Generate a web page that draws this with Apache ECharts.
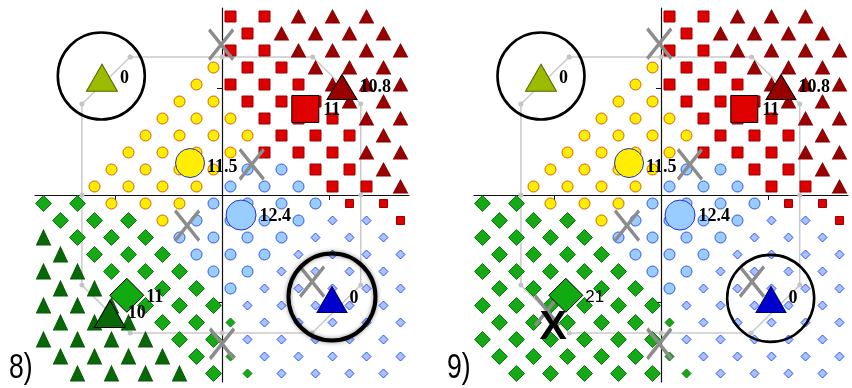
<!DOCTYPE html>
<html>
<head>
<meta charset="utf-8">
<script src="https://cdn.jsdelivr.net/npm/echarts@6/dist/echarts.min.js"></script>
<style>
  html, body { margin: 0; padding: 0; background: #fff; }
  #chart { width: 852px; height: 388px; }
</style>
</head>
<body>
<div id="chart"></div>
<script>
// Map cells on the staggered lattice: each row is [Y, [X, X, ...]]
const redSquares = [
  [10.5, [0.5, 2.5]], [9.5, [1.5]], [8.5, [0.5, 2.5]], [7.5, [1.5, 3.5]],
  [6.5, [0.5, 2.5, 4.5]], [5.5, [1.5, 3.5, 5.5]], [4.5, [2.5, 4.5, 6.5]],
  [3.5, [3.5, 5.5, 7.5]], [2.5, [2.5, 4.5, 6.5]], [1.5, [5.5, 7.5]], [0.5, [6.5, 8.5]]
];
const redSquaresSmall = [[-0.5, [7.5, 9.5]], [-1.5, [10.5]]];
const maroonTriangles = [
  [10.5, [4.5, 6.5, 8.5]], [9.5, [3.5, 5.5, 7.5, 9.5]], [8.5, [4.5, 6.5, 8.5, 10.5]],
  [7.5, [5.5, 7.5, 9.5]], [6.5, [6.5, 8.5, 10.5]], [5.5, [7.5, 9.5]], [4.5, [8.5, 10.5]],
  [3.5, [9.5]], [2.5, [8.5, 10.5]], [1.5, [9.5]], [0.5, [10.5]]
];
const yellowCircles = [
  [7.5, [-0.5]], [6.5, [-1.5]], [5.5, [-2.5, -0.5]], [4.5, [-3.5, -1.5, 0.5]],
  [3.5, [-4.5, -2.5, -0.5, 1.5]], [2.5, [-5.5, -3.5, -1.5, 0.5]],
  [1.5, [-6.5, -4.5, -2.5, -0.5]], [0.5, [-7.5, -5.5, -3.5, -1.5]],
  [-0.5, [-6.5, -4.5, -2.5]], [-1.5, [-3.5]]
];
const skyCircles = [
  [1.5, [1.5, 3.5]], [0.5, [0.5, 2.5, 4.5]], [-0.5, [-0.5, 1.5, 3.5, 5.5]],
  [-1.5, [-1.5, 0.5, 2.5, 4.5]], [-2.5, [-2.5, -0.5, 1.5, 3.5]],
  [-3.5, [-1.5, 0.5, 2.5]], [-4.5, [-0.5, 1.5]], [-5.5, [0.5]]
];
const blueDiamonds = [
  [-1.5, [6.5, 8.5]], [-2.5, [5.5, 7.5, 9.5]], [-3.5, [4.5, 6.5, 8.5, 10.5]],
  [-4.5, [3.5, 5.5, 7.5, 9.5]], [-5.5, [2.5, 4.5, 6.5, 8.5, 10.5]],
  [-6.5, [1.5, 3.5, 5.5, 7.5, 9.5]], [-7.5, [2.5, 4.5, 6.5, 8.5, 10.5]],
  [-8.5, [1.5, 3.5, 5.5, 7.5, 9.5]], [-9.5, [2.5, 4.5, 6.5, 8.5, 10.5]],
  [-10.5, [3.5, 5.5, 7.5, 9.5]]
];
const greenDiamonds = [
  [-0.5, [-10.5, -8.5]], [-1.5, [-9.5, -7.5, -5.5]], [-2.5, [-8.5, -6.5, -4.5]],
  [-3.5, [-7.5, -5.5, -3.5]], [-4.5, [-6.5, -4.5, -2.5]], [-5.5, [-5.5, -3.5, -1.5]],
  [-6.5, [-4.5, -2.5, -0.5]], [-7.5, [-3.5, -1.5]], [-8.5, [-2.5, -0.5]],
  [-9.5, [-1.5]], [-10.5, [-0.5]]
];
const greenDiamondsSmall = [[-7.5, [0.5]], [-9.5, [0.5]], [-10.5, [1.5]]];
const forestTriangles = [
  [-2.5, [-10.5]], [-3.5, [-9.5]], [-4.5, [-10.5, -8.5]], [-5.5, [-9.5, -7.5]],
  [-6.5, [-10.5, -8.5, -6.5]], [-7.5, [-9.5, -7.5, -5.5]],
  [-8.5, [-10.5, -8.5, -6.5, -4.5]], [-9.5, [-9.5, -7.5, -5.5, -3.5]],
  [-10.5, [-8.5, -6.5, -4.5, -2.5]]
];

// Prototype nodes and their counts for map 8 and map 9
const nodeNames = ['olive', 'yellow', 'red', 'maroon', 'sky', 'blue', 'green', 'forest'];
const nodeX = [-7.06, -1.88, 4.9, 7.06, 1.12, 6.47, -5.6, -6.6];
const nodeY = [6.9, 1.88, 5.06, 6.35, -1.18, -6.15, -5.9, -7.0];
const counts8 = [0, 11.5, 11, 10.8, 12.4, 0, 11, 10];
const counts9 = [0, 11.5, 11, 10.8, 12.4, 0, 21, null];

// Outline joining the outer nodes
const hull = [
  [-5.4, 8.12], [0, 8.12], [5.33, 8.12], [8.16, 5.35], [8.16, 0], [8.16, -5.3],
  [5.3, -8.12], [0, -8.12], [-5.4, -8.12], [-8.24, -5.3], [-8.24, 0], [-8.24, 5.35]
];

// Grey crosses, highlighted rings and the rejected node of map 9
const crosses8 = [[-0.05, 8.85], [1.75, 1.8], [-2.05, -1.8], [5.3, -5.1], [0, -8.75]];
const crosses9 = [[-0.1, 8.9], [1.7, 1.8], [-2.0, -1.8], [5.35, -5.1], [-0.1, -8.75], [-6.7, -6.8]];
const rings8 = [[-7.1, 7.0], [6.47, -6.0]];
const rings9 = [[-7.06, 7.0], [6.45, -6.08]];
const rejected9 = [[-6.35, -7.8]];
const panelNames = ['8)', '9)'];
const axisTicks = [-6.3, 6.3];

function cells(rows) {
  const out = [];
  rows.forEach(([y, xs]) => xs.forEach(x => out.push([x, y])));
  return out;
}

function layer(gi, rows, symbol, size, fill, border, bw) {
  return {
    type: 'scatter', xAxisIndex: gi, yAxisIndex: gi, data: cells(rows),
    symbol: symbol, symbolSize: size, clip: false, silent: true, z: 2,
    itemStyle: { color: fill, borderColor: border, borderWidth: bw, opacity: 1 }
  };
}

const nodeSymbols = ['triangle', 'circle', 'rect', 'triangle', 'circle', 'triangle', 'diamond', 'triangle'];
const nodeSizes = [[31, 27], 29, 27, [30, 25], 30, [30, 26], [34, 34], [31, 27]];
const nodeFills = ['#9abb00', '#ffee00', '#e00000', '#990000', '#99ccff', '#0000cc', '#11aa11', '#086808'];
const nodeBorders = ['#556600', '#2233aa', '#000000', '#000000', '#2233cc', '#000066', '#000000', '#000000'];
const nodeLabelOffsets = [[0, 1], [0, 4], [2, 1], [0, 0], [1, 1], [0, -1], [0, 2], [0, -1]];

function nodes(gi, counts, sansIndex) {
  const data = [];
  nodeNames.forEach((name, i) => {
    if (counts[i] === null) return;
    const sans = sansIndex === i;
    data.push({
      name: name,
      value: [nodeX[i], nodeY[i], counts[i]],
      symbol: nodeSymbols[i],
      symbolSize: nodeSizes[i],
      itemStyle: { color: nodeFills[i], borderColor: nodeBorders[i], borderWidth: 1, opacity: 1 },
      label: {
        show: true, position: 'right', distance: 2, offset: nodeLabelOffsets[i],
        formatter: String(counts[i]), color: '#000', opacity: 1,
        fontFamily: sans ? 'Liberation Sans' : 'Liberation Serif',
        fontWeight: sans ? 'normal' : 'bold', fontSize: sans ? 17 : 18
      }
    });
  });
  return {
    type: 'scatter', xAxisIndex: gi, yAxisIndex: gi, data: data,
    clip: false, silent: true, z: 5
  };
}

function crossLayer(gi, pts) {
  return {
    type: 'scatter', xAxisIndex: gi, yAxisIndex: gi, data: pts,
    symbol: 'path://M0,0L24,30M24,0L0,30', symbolSize: [24, 30],
    itemStyle: { color: 'rgba(0,0,0,0)', borderColor: '#8c8c8c', borderWidth: 3.5, opacity: 1 },
    clip: false, silent: true, z: 4
  };
}

function ringLayer(gi, pts, widths, blur) {
  return {
    type: 'scatter', xAxisIndex: gi, yAxisIndex: gi,
    data: pts.map((p, i) => ({
      value: p,
      itemStyle: {
        color: 'rgba(0,0,0,0)', borderColor: '#000', borderWidth: widths[i], opacity: 1,
        shadowBlur: blur[i], shadowColor: 'rgba(0,0,0,0.45)'
      }
    })),
    symbol: 'circle', symbolSize: 87, clip: false, silent: true, z: 6
  };
}

function hullLayer(gi) {
  return {
    type: 'line', xAxisIndex: gi, yAxisIndex: gi, data: hull.concat([hull[0]]),
    symbol: 'circle', symbolSize: 5, showSymbol: true, clip: false, silent: true, z: 1,
    itemStyle: { color: '#c4c4c4', opacity: 1 },
    lineStyle: { color: '#cacaca', width: 1.5 }
  };
}

function background(gi, mergeForest) {
  const list = [
    layer(gi, redSquares, 'rect', 11, '#dd0000', '#a00000', 1),
    layer(gi, redSquaresSmall, 'rect', 8, '#dd0000', '#a00000', 1),
    layer(gi, maroonTriangles, 'triangle', [14, 13], '#990000', '#880000', 1),
    layer(gi, yellowCircles, 'circle', 11, '#ffee00', '#d06000', 1),
    layer(gi, skyCircles, 'circle', 11, '#99ccff', '#3355dd', 1),
    layer(gi, blueDiamonds, 'diamond', 9, '#a8c4ff', '#2a4cff', 1),
    layer(gi, greenDiamonds, 'diamond', 16, '#16a816', '#0b7d0b', 1),
    layer(gi, greenDiamondsSmall, 'diamond', 9, '#16a816', '#0b7d0b', 1)
  ];
  if (mergeForest) {
    list.push(layer(gi, forestTriangles, 'diamond', 16, '#16a816', '#0b7d0b', 1));
  } else {
    list.push(layer(gi, forestTriangles, 'triangle', [14, 15], '#086808', '#065806', 1));
  }
  return list;
}

function axis(gi) {
  return {
    type: 'value', gridIndex: gi, min: -11, max: 11,
    axisLine: { show: true, onZero: true, lineStyle: { color: '#111', width: 1.2 } },
    axisTick: { show: true, customValues: axisTicks, length: 5, lineStyle: { color: '#111' } },
    axisLabel: { show: false }, splitLine: { show: false }
  };
}

const series = [];
series.push(hullLayer(0), hullLayer(1));
series.push(...background(0, false), ...background(1, true));
series.push(crossLayer(0, crosses8), crossLayer(1, crosses9));
series.push(nodes(0, counts8, -1), nodes(1, counts9, 6));
series.push(ringLayer(0, rings8, [2.6, 4], [0, 4]), ringLayer(1, rings9, [2.6, 2.6], [0, 0]));
series.push({
  type: 'scatter', xAxisIndex: 1, yAxisIndex: 1, data: rejected9,
  symbolSize: 1, itemStyle: { color: 'rgba(0,0,0,0)', opacity: 1 }, clip: false, silent: true, z: 7,
  label: {
    show: true, position: 'inside', formatter: 'X', color: '#000', opacity: 1,
    fontFamily: 'Liberation Sans', fontWeight: 'bold', fontSize: 41
  }
});

const chart = echarts.init(document.getElementById('chart'), null, { renderer: 'canvas' });
chart.setOption({
  animation: false,
  backgroundColor: '#ffffff',
  grid: [
    { left: 35, top: 8, width: 374, height: 374 },
    { left: 474, top: 8, width: 374, height: 374 }
  ],
  xAxis: [axis(0), axis(1)],
  yAxis: [axis(0), axis(1)],
  graphic: panelNames.map((t, i) => ({
    type: 'text', x: i === 0 ? 9 : 447, y: 351, scaleX: 0.76, z: 10,
    style: { text: t, fill: '#000', fontSize: 35, fontFamily: 'Liberation Sans' }
  })),
  series: series
});
</script>
</body>
</html>
